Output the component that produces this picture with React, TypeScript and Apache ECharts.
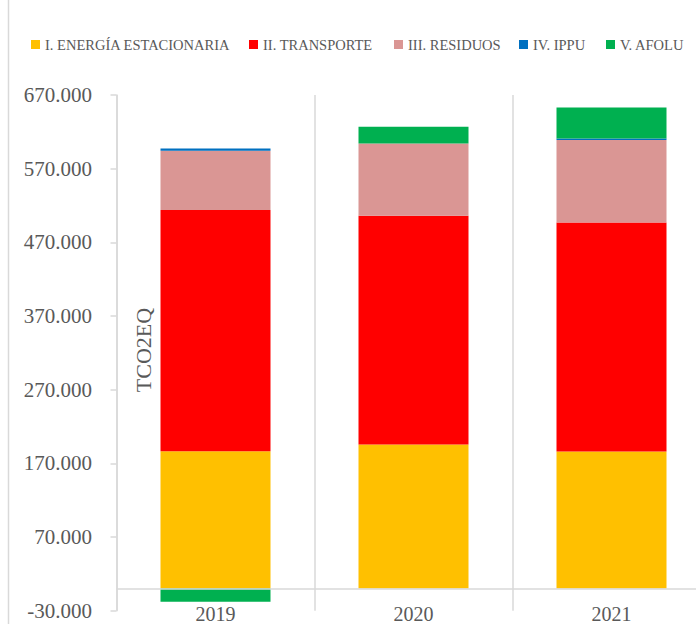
import React, { useEffect, useRef } from "react";
import * as echarts from "echarts";

const years = ["2019", "2020", "2021"];
const seriesNames = [
  "I. ENERGÍA ESTACIONARIA",
  "II. TRANSPORTE",
  "III. RESIDUOS",
  "IV. IPPU",
  "V. AFOLU",
];
const energia = [186500, 195600, 186000];
const transporte = [327300, 310400, 311100];
const residuos = [80500, 98300, 111700];
const ippu = [3200, 0, 2300];
const afolu = [-17900, 22500, 42100];
const seriesColors = ["#FFC000", "#FF0000", "#DA9694", "#0070C0", "#00B050"];
const legendLefts = [31, 249, 394, 519, 606];

const FONT = "Liberation Serif";
const GRAY = "#595959";
const LINE = "#d9d9d9";

function fmt(v: number): string {
  const neg = v < 0;
  const s = Math.abs(Math.round(v)).toString().replace(/\B(?=(\d{3})+(?!\d))/g, ".");
  return (neg ? "-" : "") + s;
}

export default function App() {
  const ref = useRef<HTMLDivElement>(null);
  useEffect(() => {
    if (!ref.current) return;
    const chart = echarts.init(ref.current, undefined, { renderer: "svg" });
    const values = [energia, transporte, residuos, ippu, afolu];
    chart.setOption({
      animation: false,
      backgroundColor: "#ffffff",
      legend: seriesNames.map((n, i) => ({
        data: [n],
        left: legendLefts[i],
        top: 37,
        itemWidth: 9,
        itemHeight: 9,
        icon: "rect",
        selectedMode: false,
        padding: 0,
        textStyle: { fontFamily: FONT, fontSize: 14.5, color: GRAY },
      })),
      grid: {
        left: 116.5,
        width: 594,
        top: 95,
        bottom: 13.3,
        containLabel: false,
        outerBoundsMode: "none",
      },
      xAxis: {
        type: "category",
        data: years,
        axisLine: { show: false },
        axisTick: { show: false },
        splitLine: { show: true, lineStyle: { color: LINE, width: 1.5 } },
        axisLabel: {
          fontFamily: FONT,
          fontSize: 20,
          lineHeight: 20,
          color: GRAY,
          margin: -7,
        },
      },
      yAxis: {
        type: "value",
        min: -30000,
        max: 670000,
        interval: 100000,
        axisLine: { show: true, lineStyle: { color: LINE, width: 1.5 } },
        axisTick: { show: true, length: 6, lineStyle: { color: LINE, width: 1.5 } },
        splitLine: { show: false },
        axisLabel: {
          fontFamily: FONT,
          fontSize: 21,
          color: GRAY,
          margin: 24.5,
          formatter: (v: number) => fmt(v),
        },
      },
      series: seriesNames.map((n, i) => ({
        name: n,
        type: "bar",
        stack: "total",
        barWidth: 110,
        itemStyle: { color: seriesColors[i] },
        data: values[i],
        markLine:
          i === 0
            ? {
                silent: true,
                symbol: ["none", "none"],
                label: { show: false },
                lineStyle: { color: LINE, width: 1.5, type: "solid" },
                data: [{ yAxis: 0 }],
              }
            : undefined,
      })),
      graphic: [
        {
          type: "line",
          shape: { x1: 8.5, y1: 0, x2: 8.5, y2: 624 },
          style: { stroke: LINE, lineWidth: 1.5 },
        },
        {
          type: "text",
          x: 143.5,
          y: 350,
          rotation: Math.PI / 2,
          style: {
            text: "TCO2EQ",
            fontFamily: FONT,
            fontSize: 22,
            fill: GRAY,
            align: "center",
            verticalAlign: "middle",
          },
        },
      ],
    });
    return () => chart.dispose();
  }, []);
  return (
    <div
      ref={ref}
      style={{ position: "fixed", left: 0, top: 0, width: 711, height: 624 }}
    />
  );
}
